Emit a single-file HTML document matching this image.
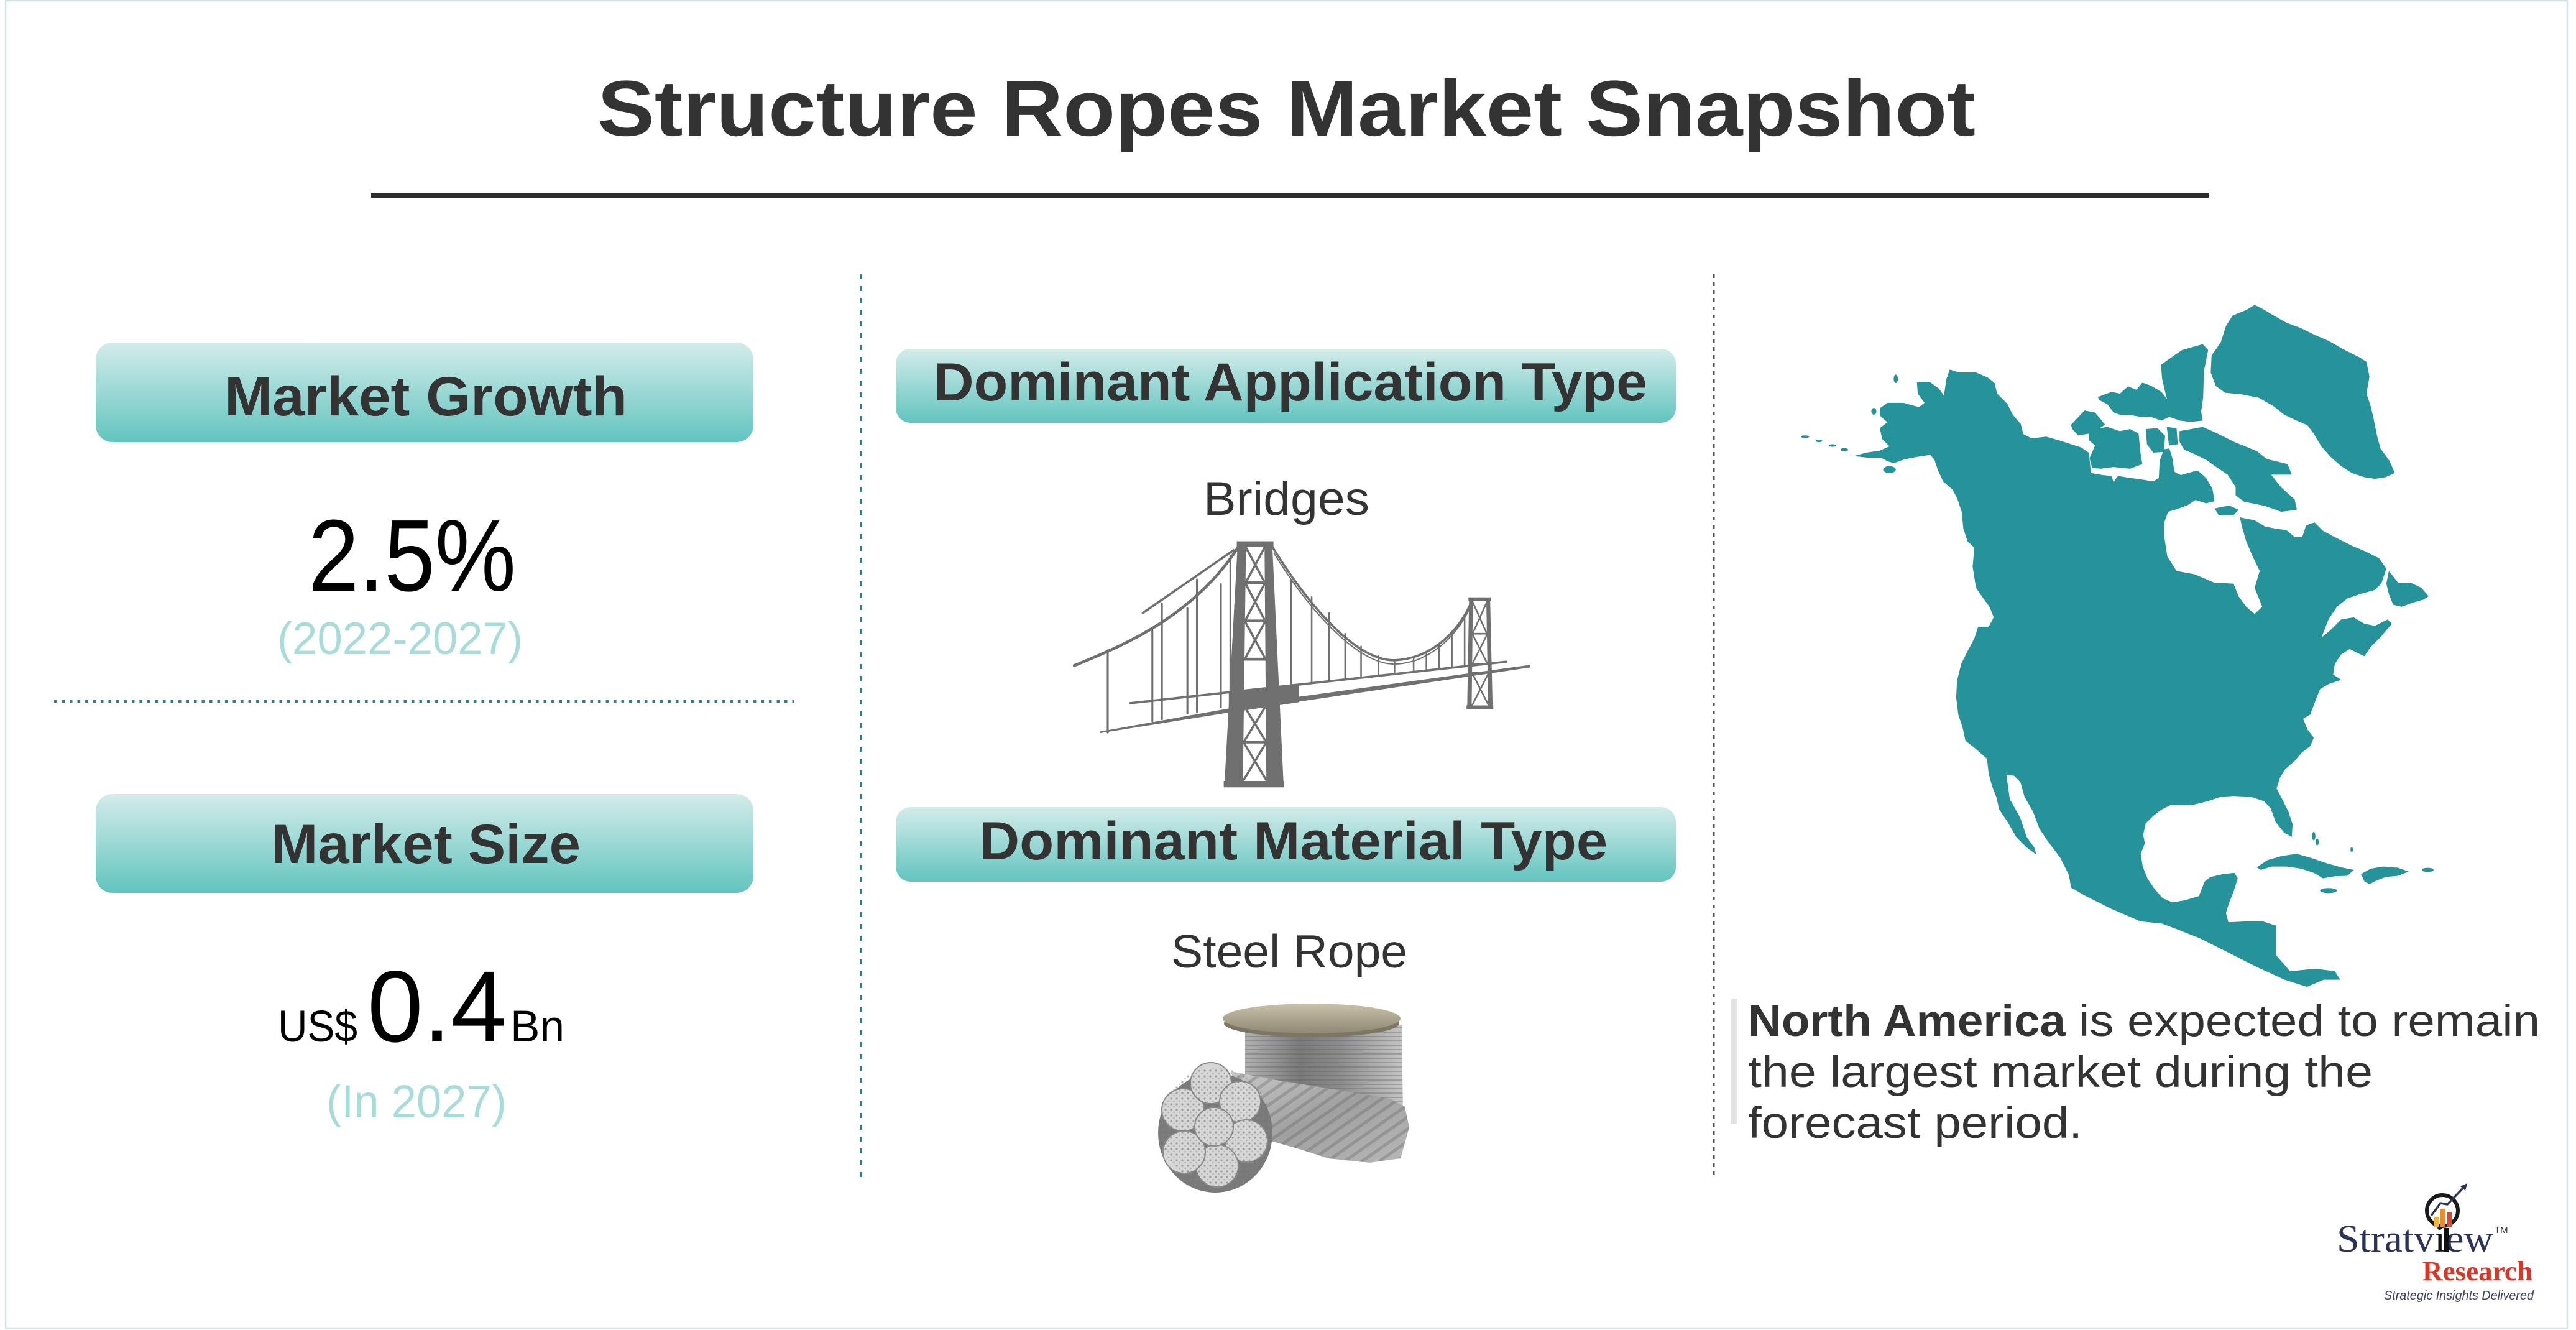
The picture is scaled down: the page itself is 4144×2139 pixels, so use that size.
<!DOCTYPE html>
<html><head><meta charset="utf-8"><style>
html,body{margin:0;padding:0;background:#fff;}
svg{display:block;}
</style></head><body>
<svg width="4144" height="2139" viewBox="0 0 4144 2139" xmlns="http://www.w3.org/2000/svg" font-family="'Liberation Sans',Arial,sans-serif">
<defs>
<linearGradient id="box" x1="0" y1="0" x2="0" y2="1"><stop offset="0" stop-color="#d3ecea"/><stop offset="1" stop-color="#62c4bf"/></linearGradient>
<linearGradient id="coil" x1="0" y1="0" x2="1" y2="0"><stop offset="0" stop-color="#b0b0b0"/><stop offset="0.35" stop-color="#7a7a7a"/><stop offset="0.6" stop-color="#8c8c8c"/><stop offset="1" stop-color="#c4c4c4"/></linearGradient>
<linearGradient id="flange" x1="0" y1="0" x2="0" y2="1"><stop offset="0" stop-color="#c9c1a9"/><stop offset="1" stop-color="#8f8873"/></linearGradient>
<linearGradient id="band" x1="0" y1="0" x2="1" y2="1"><stop offset="0" stop-color="#c8c8c8"/><stop offset="0.5" stop-color="#a0a0a0"/><stop offset="1" stop-color="#b8b8b8"/></linearGradient>
<pattern id="hs" width="10" height="7" patternUnits="userSpaceOnUse"><rect width="10" height="2" fill="#555" opacity="0.3"/></pattern>
<pattern id="ds" width="16" height="16" patternUnits="userSpaceOnUse" patternTransform="rotate(55)"><rect width="5" height="16" fill="#555" opacity="0.28"/></pattern>
<pattern id="sp" width="9" height="9" patternUnits="userSpaceOnUse"><circle cx="3" cy="3" r="1.6" fill="#777" opacity="0.6"/><circle cx="7.5" cy="7" r="1.3" fill="#888" opacity="0.5"/></pattern>
</defs>

<rect x="0" y="0" width="4144" height="2139" fill="#fff"/>
<rect x="9" y="1" width="4121" height="2135" fill="none" stroke="#d2e4e5" stroke-width="2.5"/>

<!-- Title -->
<text x="961" y="218" font-size="127" font-weight="bold" fill="#333" textLength="2217" lengthAdjust="spacingAndGlyphs">Structure Ropes Market Snapshot</text>
<rect x="597" y="311" width="2956" height="7" fill="#2b2b2b"/>

<!-- Dividers -->
<line x1="1385" y1="441" x2="1385" y2="1898" stroke="#2b7f7e" stroke-width="3" stroke-dasharray="8 11"/>
<line x1="2757" y1="441" x2="2757" y2="1896" stroke="#555" stroke-width="3" stroke-dasharray="6 7"/>
<line x1="87" y1="1128" x2="1278" y2="1128" stroke="#2e7f7e" stroke-width="4" stroke-dasharray="4.5 8"/>

<!-- Left column -->
<rect x="154" y="551" width="1058" height="160" rx="27" fill="url(#box)"/>
<text x="361" y="668" font-size="89" font-weight="bold" fill="#333" textLength="648" lengthAdjust="spacingAndGlyphs">Market Growth</text>
<text x="496" y="950" font-size="164" fill="#000" textLength="334" lengthAdjust="spacingAndGlyphs">2.5%</text>
<text x="446" y="1052" font-size="73" fill="#a8dcd8" textLength="395" lengthAdjust="spacingAndGlyphs">(2022-2027)</text>

<rect x="154" y="1277" width="1058" height="159" rx="27" fill="url(#box)"/>
<text x="436" y="1388" font-size="89" font-weight="bold" fill="#333" textLength="498" lengthAdjust="spacingAndGlyphs">Market Size</text>
<text x="447" y="1675" font-size="71" fill="#000" textLength="128" lengthAdjust="spacingAndGlyphs">US$</text>
<text x="591" y="1675" font-size="163" fill="#000" textLength="224" lengthAdjust="spacingAndGlyphs">0.4</text>
<text x="821" y="1675" font-size="71" fill="#000" textLength="87" lengthAdjust="spacingAndGlyphs">Bn</text>
<text x="525" y="1797" font-size="74" fill="#a8dcd8" textLength="290" lengthAdjust="spacingAndGlyphs">(In 2027)</text>

<!-- Middle column -->
<rect x="1441" y="561" width="1255" height="119" rx="24" fill="url(#box)"/>
<text x="1502" y="644" font-size="86" font-weight="bold" fill="#333" textLength="1148" lengthAdjust="spacingAndGlyphs">Dominant Application Type</text>
<text x="1936" y="828" font-size="76" fill="#333" textLength="267" lengthAdjust="spacingAndGlyphs">Bridges</text>

<!-- Bridge -->
<g transform="translate(1700,850) scale(0.5126)" stroke="#707070" fill="#707070" stroke-linecap="round">
  <path d="M55,430 C200,370 430,280 575,50" fill="none" stroke-width="9"/>
  <path d="M270,265 L555,68" fill="none" stroke-width="7"/>
  <g stroke-width="6">
    <line x1="160" y1="382" x2="160" y2="640"/>
    <line x1="300" y1="312" x2="300" y2="605"/>
    <line x1="330" y1="235" x2="330" y2="598"/>
    <line x1="410" y1="250" x2="410" y2="580"/>
    <line x1="440" y1="160" x2="440" y2="575"/>
    <line x1="515" y1="175" x2="515" y2="560"/>
    <line x1="545" y1="85" x2="545" y2="555"/>
  </g>
  <path d="M672,50 C800,260 950,420 1065,413 C1180,406 1265,320 1305,222" fill="none" stroke-width="7"/>
  <path d="M682,78 C810,285 960,432 1065,425 C1170,420 1255,340 1300,242" fill="none" stroke-width="4"/>
  <g stroke-width="5">
    <line x1="735" y1="160" x2="735" y2="492"/>
    <line x1="800" y1="215" x2="800" y2="485"/>
    <line x1="855" y1="265" x2="855" y2="479"/>
    <line x1="905" y1="330" x2="905" y2="474"/>
    <line x1="955" y1="370" x2="955" y2="468"/>
    <line x1="1010" y1="400" x2="1010" y2="462"/>
    <line x1="1060" y1="413" x2="1060" y2="457"/>
    <line x1="1120" y1="405" x2="1120" y2="450"/>
    <line x1="1160" y1="392" x2="1160" y2="446"/>
    <line x1="1200" y1="365" x2="1200" y2="441"/>
    <line x1="1240" y1="330" x2="1240" y2="437"/>
    <line x1="1280" y1="280" x2="1280" y2="432"/>
  </g>
  <polygon points="135,642 700,552 1485,436 1485,428 700,536 135,637" stroke="none"/>
  <line x1="230" y1="548" x2="1410" y2="418" stroke-width="7"/>
  <polygon points="540,515 760,490 760,545 540,578" stroke="none"/>
  <!-- main tower -->
  <polygon points="568,45 594,45 584,808 526,808" stroke="none"/>
  <polygon points="652,45 676,45 712,808 658,808" stroke="none"/>
  <rect x="565" y="40" width="115" height="18" stroke="none"/>
  <polygon points="524,792 714,792 714,812 524,812" stroke="none"/>
  <g stroke-width="9">
    <line x1="592" y1="170" x2="653" y2="170"/>
    <line x1="590" y1="290" x2="654" y2="290"/>
    <line x1="589" y1="410" x2="655" y2="410"/>
    <line x1="587" y1="555" x2="656" y2="555"/>
    <line x1="586" y1="670" x2="657" y2="670"/>
  </g>
  <g stroke-width="7">
    <line x1="593" y1="58" x2="653" y2="170"/><line x1="653" y1="58" x2="593" y2="170"/>
    <line x1="591" y1="170" x2="654" y2="290"/><line x1="654" y1="170" x2="591" y2="290"/>
    <line x1="590" y1="290" x2="655" y2="410"/><line x1="655" y1="290" x2="590" y2="410"/>
    <line x1="587" y1="555" x2="657" y2="670"/><line x1="657" y1="555" x2="587" y2="670"/>
    <line x1="586" y1="670" x2="658" y2="790"/><line x1="658" y1="670" x2="586" y2="790"/>
  </g>
  <!-- small tower -->
  <polygon points="1294,222 1306,222 1302,565 1288,565" stroke="none"/>
  <polygon points="1348,222 1360,222 1368,565 1354,565" stroke="none"/>
  <rect x="1292" y="216" width="70" height="12" stroke="none"/>
  <rect x="1286" y="555" width="84" height="12" stroke="none"/>
  <g stroke-width="5">
    <line x1="1304" y1="330" x2="1352" y2="330"/>
    <line x1="1303" y1="425" x2="1354" y2="425"/>
    <line x1="1303" y1="452" x2="1355" y2="452"/>
    <line x1="1305" y1="230" x2="1350" y2="330"/><line x1="1350" y1="230" x2="1305" y2="330"/>
    <line x1="1304" y1="330" x2="1352" y2="425"/><line x1="1352" y1="330" x2="1304" y2="425"/>
    <line x1="1303" y1="452" x2="1356" y2="556"/><line x1="1356" y1="452" x2="1303" y2="556"/>
  </g>
</g>

<rect x="1441" y="1298" width="1255" height="120" rx="24" fill="url(#box)"/>
<text x="1575" y="1382" font-size="86" font-weight="bold" fill="#333" textLength="1011" lengthAdjust="spacingAndGlyphs">Dominant Material Type</text>
<text x="1884" y="1556" font-size="75" fill="#333" textLength="380" lengthAdjust="spacingAndGlyphs">Steel Rope</text>

<!-- Steel rope -->
<g>
  <path d="M2003,1648 L2255,1648 L2257,1790 Q2130,1815 2003,1795 Z" fill="url(#coil)"/>
  <path d="M2003,1648 L2255,1648 L2257,1790 Q2130,1815 2003,1795 Z" fill="url(#hs)"/>
  <ellipse cx="2110" cy="1646" rx="141" ry="22" fill="#7c7665"/>
  <ellipse cx="2110" cy="1638" rx="143" ry="24" fill="url(#flange)"/>
  <path d="M1980,1723 L2053,1737 L2153,1753 L2237,1767 L2260,1780 L2267,1813 L2253,1863 L2203,1870 L2137,1863 L2087,1847 L2037,1833 L2007,1820 Z" fill="url(#band)"/>
  <path d="M1980,1723 L2053,1737 L2153,1753 L2237,1767 L2260,1780 L2267,1813 L2253,1863 L2203,1870 L2137,1863 L2087,1847 L2037,1833 L2007,1820 Z" fill="url(#ds)"/>
  <ellipse cx="1955" cy="1822" rx="92" ry="96" fill="#7a7a7a"/>
  <g fill="#d6d6d6" stroke="#8a8a8a" stroke-width="2">
    <circle cx="1903" cy="1785" r="34"/>
    <circle cx="1948" cy="1742" r="33"/>
    <circle cx="1995" cy="1772" r="33"/>
    <circle cx="2005" cy="1835" r="34"/>
    <circle cx="1958" cy="1875" r="34"/>
    <circle cx="1905" cy="1853" r="34"/>
    <circle cx="1953" cy="1812" r="31"/>
  </g>
  <ellipse cx="1955" cy="1812" rx="90" ry="95" fill="url(#sp)"/>
</g>

<!-- Map -->
<g transform="translate(2880,470) scale(0.6791)" fill="#26929a">
<path d="M1412,655 L1400,690 L1385,705 L1350,715 L1320,725 L1295,745 L1275,775 L1258,818 L1280,800 L1305,775 L1335,770 L1360,785 L1385,790 L1415,775 L1425,785 L1400,815 L1375,840 L1360,862 L1345,855 L1325,845 L1305,858 L1290,880 L1286,905 L1305,918 L1275,928 L1255,940 L1245,965 L1232,1000 L1215,1010 L1225,1035 L1240,1055 L1232,1075 L1212,1090 L1195,1110 L1172,1130 L1160,1150 L1152,1175 L1165,1200 L1180,1230 L1190,1260 L1188,1290 L1170,1280 L1150,1255 L1138,1222 L1122,1205 L1090,1195 L1050,1193 L1020,1195 L990,1205 L950,1215 L900,1215 L880,1225 L860,1240 L842,1258 L836,1285 L840,1305 L830,1330 L835,1360 L846,1388 L862,1412 L882,1435 L905,1445 L935,1440 L968,1430 L982,1395 L995,1385 L1025,1378 L1052,1375 L1060,1388 L1050,1420 L1040,1445 L1032,1470 L1038,1492 L1080,1490 L1120,1490 L1150,1500 L1150,1569 L1184,1608 L1244,1602 L1290,1608 L1303,1628 L1264,1628 L1224,1645 L1171,1628 L1105,1598 L1060,1575 L1030,1560 L970,1530 L920,1510 L880,1495 L830,1490 L760,1460 L700,1430 L665,1410 L660,1380 L640,1340 L610,1300 L590,1270 L575,1230 L555,1195 L545,1160 L530,1145 L512,1143 L520,1200 L545,1245 L560,1290 L578,1315 L583,1332 L560,1315 L535,1290 L515,1255 L495,1225 L488,1195 L478,1170 L470,1140 L466,1105 L440,1082 L415,1062 L408,1030 L398,1000 L393,960 L395,920 L405,880 L420,850 L436,820 L445,792 L470,792 L482,770 L472,745 L455,722 L440,700 L432,650 L436,605 L420,590 L410,560 L406,520 L396,490 L385,468 L362,448 L350,422 L342,398 L332,385 L300,390 L270,396 L245,405 L230,400 L215,392 L185,392 L150,388 L180,380 L212,375 L235,365 L218,348 L212,322 L230,308 L212,292 L212,275 L230,262 L268,262 L305,272 L318,262 L302,240 L300,213 L330,212 L352,228 L364,245 L370,205 L378,183 L400,190 L440,190 L468,202 L484,215 L490,240 L514,264 L527,290 L546,312 L552,336 L572,346 L606,342 L634,350 L653,356 L690,368 L707,380 L710,405 L712,428 L740,433 L761,435 L766,450 L776,435 L800,439 L830,443 L860,448 L873,440 L875,400 L885,372 L898,370 L905,392 L910,425 L925,433 L950,426 L965,422 L985,440 L1000,465 L1005,495 L985,500 L960,492 L940,505 L915,514 L895,520 L886,545 L886,579 L893,625 L915,660 L958,668 L1005,688 L1050,690 L1062,720 L1080,745 L1100,762 L1118,745 L1100,700 L1112,660 L1095,625 L1080,590 L1070,555 L1065,533 L1100,540 L1125,555 L1150,560 L1175,563 L1195,580 L1213,579 L1222,552 L1242,545 L1262,565 L1290,580 L1330,600 L1365,615 L1395,630 Z"/>
<!-- Southampton island -->
<path d="M1005,512 L1040,505 L1062,515 L1050,528 L1015,528 Z"/>
<!-- Arctic islands -->
<path d="M665,314 L697,280 L722,285 L746,314 L712,334 L682,339 L668,324 Z"/>
<path d="M707,326 L751,319 L781,329 L805,324 L825,334 L830,383 L834,407 L805,418 L766,414 L735,418 L715,416 L709,393 L722,363 L707,350 Z"/>
<path d="M842,324 L870,322 L888,340 L885,378 L860,380 L845,360 Z"/>
<path d="M892,319 L915,322 L918,360 L897,363 Z"/>
<path d="M729,248 L761,236 L781,240 L800,223 L820,231 L834,214 L854,221 L879,236 L898,260 L928,265 L972,275 L977,304 L947,307 L923,304 L898,295 L879,304 L854,295 L830,295 L800,290 L781,290 L766,285 L751,265 L731,255 Z"/>
<path d="M878,172 L913,147 L928,137 L977,123 L990,137 L980,187 L978,250 L973,285 L947,298 L908,296 L898,275 L888,236 L881,206 Z"/>
<path d="M922,329 L977,319 L1011,334 L1055,356 L1105,376 L1129,395 L1178,407 L1188,432 L1139,432 L1163,462 L1195,491 L1200,515 L1163,520 L1124,506 L1075,496 L1055,481 L1055,461 L1036,432 L1006,412 L987,398 L957,383 L933,373 L922,354 Z"/>
<!-- Greenland -->
<path d="M1020,118 L1032,80 L1048,55 L1080,42 L1100,30 L1120,40 L1140,52 L1175,72 L1210,85 L1240,100 L1275,115 L1310,135 L1350,155 L1365,165 L1372,200 L1365,240 L1375,270 L1382,300 L1390,340 L1398,370 L1420,400 L1432,428 L1410,438 L1385,442 L1360,438 L1330,428 L1305,412 L1280,390 L1258,365 L1240,335 L1225,315 L1195,302 L1170,290 L1145,270 L1110,250 L1070,242 L1030,238 L1008,222 L996,190 L998,150 Z"/>
<!-- Newfoundland -->
<path d="M1418,660 L1440,688 L1470,688 L1495,700 L1512,720 L1500,728 L1475,735 L1448,745 L1428,740 L1418,715 L1412,690 Z"/>
<!-- Caribbean -->
<path d="M1105,1362 L1130,1345 L1165,1335 L1200,1330 L1235,1340 L1270,1352 L1305,1362 L1335,1368 L1320,1382 L1290,1383 L1262,1388 L1240,1375 L1210,1365 L1175,1360 L1140,1360 L1115,1368 Z"/>
<path d="M1352,1378 L1375,1365 L1405,1360 L1440,1363 L1465,1372 L1440,1382 L1410,1385 L1385,1395 L1372,1402 L1360,1395 Z"/>
<ellipse cx="1275" cy="1417" rx="20" ry="6"/>
<ellipse cx="1510" cy="1368" rx="14" ry="5"/>
<ellipse cx="1240" cy="1288" rx="4" ry="10"/>
<ellipse cx="1248" cy="1302" rx="4" ry="8"/>
<ellipse cx="1330" cy="1320" rx="3" ry="6"/>
<!-- Aleutians / Alaska islands -->
<ellipse cx="35" cy="342" rx="10" ry="3"/>
<ellipse cx="68" cy="352" rx="8" ry="3"/>
<ellipse cx="100" cy="363" rx="9" ry="3"/>
<ellipse cx="128" cy="373" rx="9" ry="4"/>
<ellipse cx="235" cy="420" rx="15" ry="8"/>
<ellipse cx="250" cy="205" rx="5" ry="10"/>
<ellipse cx="198" cy="282" rx="6" ry="8"/>
</g>

<!-- Right text -->
<rect x="2785" y="1606" width="9" height="202" fill="#e3e3e3"/>
<text x="2812" y="1666" font-size="71" font-weight="bold" fill="#333" textLength="511" lengthAdjust="spacingAndGlyphs">North America</text>
<text x="3344" y="1666" font-size="71" fill="#333" textLength="742" lengthAdjust="spacingAndGlyphs">is expected to remain</text>
<text x="2812" y="1748" font-size="71" fill="#333" textLength="1005" lengthAdjust="spacingAndGlyphs">the largest market during the</text>
<text x="2812" y="1830" font-size="71" fill="#333" textLength="538" lengthAdjust="spacingAndGlyphs">forecast period.</text>

<!-- Logo -->
<g>
  <text x="3759" y="2013" style="font-family:'Liberation Serif',serif" font-size="62" fill="#2b3358" textLength="252" lengthAdjust="spacingAndGlyphs">Stratv<tspan fill="#111">i</tspan>ew</text>
  <rect x="3931" y="1975" width="8" height="38" fill="#111"/>
  <circle cx="3929" cy="1947" r="25" fill="#fff" stroke="#1a1a1a" stroke-width="6"/>
  <rect x="3915" y="1957" width="8" height="16" fill="#f2b630"/>
  <rect x="3926" y="1944" width="8" height="29" fill="#ee8a2c"/>
  <rect x="3937" y="1949" width="7" height="24" fill="#e0452e"/>
  <polyline points="3911,1955 3926,1935 3937,1937 3964,1909" fill="none" stroke="#2b3358" stroke-width="3.5"/>
  <polygon points="3969,1903 3958,1908 3966,1915" fill="#2b3358"/>
  <text x="4013" y="1983" font-size="15" fill="#333">TM</text>
  <text x="3897" y="2059" style="font-family:'Liberation Serif',serif" font-size="44" font-weight="bold" fill="#d4382a" textLength="177" lengthAdjust="spacingAndGlyphs">Research</text>
  <text x="3835" y="2090" font-size="20" font-style="italic" fill="#3b3f5e" textLength="241" lengthAdjust="spacingAndGlyphs">Strategic Insights Delivered</text>
</g>
</svg>
</body></html>
